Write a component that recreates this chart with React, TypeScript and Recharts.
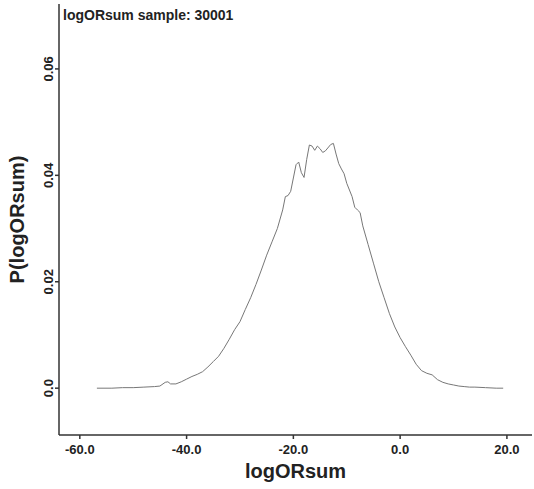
import { LineChart, Line, XAxis, YAxis } from "recharts";

// density estimate
const xs = [
  -56.8, -54, -52, -50, -48, -46, -45, -44, -43.5, -43, -42, -41, -40, -39, -38,
  -37, -36, -35, -34, -33, -32, -31, -30, -29, -28, -27, -26, -25, -24, -23,
  -22, -21.5, -21, -20.5, -20, -19.5, -19, -18.5, -18, -17.5, -17, -16.5, -16,
  -15.5, -15, -14.5, -14, -13, -12.5, -12, -11.5, -11, -10.5, -10, -9, -8.5,
  -8, -7.5, -7, -6, -5, -4, -3, -2, -1, 0, 1, 2, 3, 4, 5, 6, 7, 8, 9, 10, 11,
  12, 13, 14, 16, 18, 19.3,
];
const ps = [
  0.0, 0.0, 0.0001, 0.0001, 0.0002, 0.0003, 0.0004, 0.0011, 0.0012, 0.0008,
  0.0008, 0.0012, 0.0017, 0.0022, 0.0026, 0.0031, 0.004, 0.005, 0.006, 0.0075,
  0.0092, 0.011, 0.0125, 0.0148, 0.017, 0.0195, 0.0222, 0.025, 0.0275, 0.03,
  0.0335, 0.036, 0.0362, 0.037, 0.0395, 0.042, 0.0425, 0.0405, 0.0396, 0.043,
  0.0457, 0.0455, 0.0447, 0.0455, 0.045, 0.0443, 0.0446, 0.0458, 0.046, 0.044,
  0.0422, 0.0412, 0.0403, 0.0385, 0.036, 0.034, 0.0335, 0.033, 0.0305, 0.027,
  0.0235, 0.02, 0.017, 0.014, 0.0115, 0.0095, 0.0078, 0.0062, 0.0045, 0.0033,
  0.0028, 0.0025, 0.0016, 0.0011, 0.0008, 0.0006, 0.0004, 0.0003, 0.0002,
  0.0002, 0.0001, 0.0, 0.0,
];
const xTicks = [-60, -40, -20, 0, 20];
const yTicks = [0, 0.02, 0.04, 0.06];

const data = xs.map((x, i) => ({ x, p: ps[i] }));

const font = "Arial, 'Liberation Sans', sans-serif";
const axisColor = "#333";

const XTick = (props: any) => {
  const { x, y, payload } = props;
  return (
    <text
      x={x}
      y={y + 13}
      textAnchor="middle"
      fontFamily={font}
      fontSize={13}
      fontWeight="bold"
      fill="#222"
    >
      {payload.value.toFixed(1)}
    </text>
  );
};

const YTick = (props: any) => {
  const { x, y, payload } = props;
  const label = payload.value === 0 ? "0.0" : payload.value.toFixed(2);
  return (
    <text
      x={0}
      y={0}
      transform={`translate(${x}, ${y}) rotate(-90)`}
      textAnchor="middle"
      fontFamily={font}
      fontSize={13}
      fontWeight="bold"
      fill="#222"
    >
      {label}
    </text>
  );
};

export default function App() {
  return (
    <div style={{ position: "absolute", left: 0, top: 0, background: "#fff" }}>
      <LineChart
        width={534}
        height={489}
        data={data}
        margin={{ top: 4, right: 2, left: 0, bottom: 0 }}
      >
        <XAxis
          dataKey="x"
          type="number"
          domain={[-63.9, 24.7]}
          ticks={xTicks}
          allowDataOverflow
          height={54}
          stroke={axisColor}
          strokeWidth={1.5}
          tickSize={4}
          tick={<XTick />}
          label={{
            value: "logORsum",
            position: "insideBottom",
            offset: 11,
            fontFamily: font,
            fontSize: 20,
            fontWeight: "bold",
            fill: "#222",
          }}
        />
        <XAxis
          xAxisId="top"
          dataKey="x"
          type="number"
          domain={[-63.9, 24.7]}
          orientation="top"
          height={0}
          tick={false}
          tickLine={false}
          stroke={axisColor}
          strokeWidth={1.5}
        />
        <YAxis
          type="number"
          domain={[-0.0088, 0.0722]}
          ticks={yTicks}
          allowDataOverflow
          width={59}
          stroke={axisColor}
          strokeWidth={1.5}
          tickSize={4}
          tick={<YTick />}
          label={{
            value: "P(logORsum)",
            angle: -90,
            position: "insideLeft",
            offset: 0,
            dx: 17,
            fontFamily: font,
            fontSize: 20,
            fontWeight: "bold",
            fill: "#222",
            style: { textAnchor: "middle" },
          }}
        />
        <YAxis
          yAxisId="right"
          orientation="right"
          width={0}
          tick={false}
          tickLine={false}
          stroke={axisColor}
          strokeWidth={1.5}
        />
        <Line
          dataKey="p"
          type="linear"
          stroke="#777"
          strokeWidth={1}
          dot={false}
          isAnimationActive={false}
        />
        <text
          x={63}
          y={20}
          fontFamily={font}
          fontSize={14}
          fontWeight="bold"
          fill="#222"
        >
          logORsum sample: 30001
        </text>
      </LineChart>
    </div>
  );
}
